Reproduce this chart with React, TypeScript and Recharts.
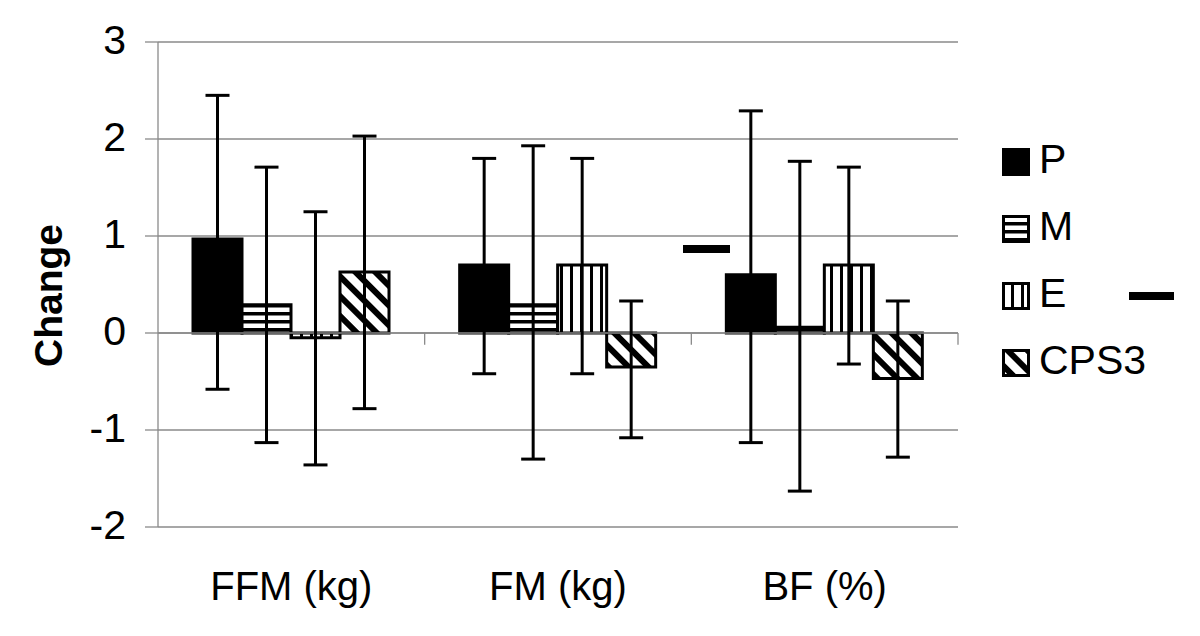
import React from 'react';
import { BarChart, Bar, XAxis, YAxis, CartesianGrid, ErrorBar, ReferenceLine } from 'recharts';

const FONT = '"Liberation Sans", Arial, Helvetica, sans-serif';

const categories = ['FFM (kg)', 'FM (kg)', 'BF (%)'];
const yTicks = [-2, -1, 0, 1, 2, 3];

const pMean = [0.97, 0.7, 0.6];
const pLow = [-0.58, -0.42, -1.13];
const pHigh = [2.45, 1.8, 2.29];

const mMean = [0.29, 0.29, 0.06];
const mLow = [-1.13, -1.3, -1.63];
const mHigh = [1.71, 1.93, 1.77];

const eMean = [-0.05, 0.7, 0.7];
const eLow = [-1.36, -0.42, -0.32];
const eHigh = [1.25, 1.8, 1.71];

const cMean = [0.63, -0.35, -0.47];
const cLow = [-0.78, -1.08, -1.28];
const cHigh = [2.03, 0.33, 0.33];

const seriesNames = ['P', 'M', 'E', 'CPS3'];
const seriesFills = ['#000', 'url(#patM)', 'url(#patE)', 'url(#patC)'];

const data = categories.map((name, i) => ({
  name,
  P: pMean[i],
  pErr: [pMean[i] - pLow[i], pHigh[i] - pMean[i]],
  M: mMean[i],
  mErr: [mMean[i] - mLow[i], mHigh[i] - mMean[i]],
  E: eMean[i],
  eErr: [eMean[i] - eLow[i], eHigh[i] - eMean[i]],
  CPS3: cMean[i],
  cErr: [cMean[i] - cLow[i], cHigh[i] - cMean[i]],
}));

const errKeys = ['pErr', 'mErr', 'eErr', 'cErr'];

const YLabel = (props: any) => {
  const vb = props.viewBox || { x: 0, y: 0, width: 0, height: 0 };
  const cx = vb.x + 62;
  const cy = vb.y + vb.height / 2 + 11;
  return (
    <text
      x={cx}
      y={cy}
      transform={`rotate(-90 ${cx} ${cy})`}
      textAnchor="middle"
      fontFamily={FONT}
      fontWeight="bold"
      fontSize={39}
      fill="#000"
    >
      Change
    </text>
  );
};

const YTick = (props: any) => {
  const { x, y, payload } = props;
  return (
    <text x={x} y={y} dy={12} textAnchor="end" fontFamily={FONT} fontSize={41} fill="#000">
      {payload.value}
    </text>
  );
};

const XTick = (props: any) => {
  const { x, y, payload } = props;
  return (
    <text x={x} y={y} dy={27} textAnchor="middle" fontFamily={FONT} fontSize={40} fill="#000">
      {payload.value}
    </text>
  );
};

export default function App() {
  return (
    <div style={{ position: 'absolute', left: 0, top: 0, width: 1200, height: 636, background: '#fff', fontFamily: FONT }}>
      <BarChart
        width={1200}
        height={636}
        data={data}
        margin={{ top: 42, right: 242, bottom: 0, left: 0 }}
        barCategoryGap={35}
        barGap={0}
      >
        <defs>
          <pattern id="patM" width="8" height="8" patternUnits="userSpaceOnUse">
            <rect width="8" height="8" fill="#fff" />
            <rect x="0" y="0" width="8" height="3.5" fill="#000" />
          </pattern>
          <pattern id="patE" width="10" height="10" patternUnits="userSpaceOnUse">
            <rect width="10" height="10" fill="#fff" />
            <rect x="0" y="0" width="3" height="10" fill="#000" />
          </pattern>
          <pattern id="patC" width="14" height="14" patternUnits="userSpaceOnUse" patternTransform="rotate(-45)">
            <rect width="14" height="14" fill="#fff" />
            <rect x="0" y="0" width="6" height="14" fill="#000" />
          </pattern>
        </defs>
        <CartesianGrid horizontal vertical={false} stroke="#8a8a8a" strokeWidth={1.3} />
        <XAxis
          dataKey="name"
          axisLine={false}
          tickLine={false}
          tickSize={0}
          tickMargin={46}
          height={109}
          interval={0}
          tick={<XTick />}
        />
        <YAxis
          domain={[-2, 3]}
          ticks={yTicks}
          width={158}
          axisLine={{ stroke: '#8a8a8a', strokeWidth: 1.3 }}
          tickLine={{ stroke: '#8a8a8a', strokeWidth: 1.3 }}
          tickSize={13}
          tickMargin={19}
          tick={<YTick />}
          label={<YLabel />}
        />
        <ReferenceLine y={0} stroke="#8a8a8a" strokeWidth={1.3} />
        <ReferenceLine segment={[{ x: categories[1], y: 0 }, { x: categories[1], y: -0.12 }]} position="start" stroke="#8a8a8a" strokeWidth={1.3} />
        <ReferenceLine segment={[{ x: categories[2], y: 0 }, { x: categories[2], y: -0.12 }]} position="start" stroke="#8a8a8a" strokeWidth={1.3} />
        <ReferenceLine segment={[{ x: categories[2], y: 0 }, { x: categories[2], y: -0.12 }]} position="end" stroke="#8a8a8a" strokeWidth={1.3} />
        {seriesNames.map((s, i) => (
          <Bar key={s} dataKey={s} fill={seriesFills[i]} stroke="#000" strokeWidth={3} isAnimationActive={false}>
            <ErrorBar dataKey={errKeys[i]} width={12} stroke="#000" strokeWidth={3} />
          </Bar>
        ))}
      </BarChart>
      <div style={{ position: 'absolute', left: 683, top: 245, width: 47, height: 8, background: '#000' }} />
      <div style={{ position: 'absolute', left: 1129, top: 292, width: 45, height: 8, background: '#000' }} />
      <div style={{ position: 'absolute', left: 1001, top: 128, fontFamily: FONT }}>
        {seriesNames.map((s, i) => (
          <div key={s} style={{ display: 'flex', alignItems: 'center', height: 67 }}>
            <svg width={30} height={30} style={{ display: 'block' }}>
              <rect x={2.5} y={2.5} width={25} height={25} fill={seriesFills[i]} stroke="#000" strokeWidth={3} />
            </svg>
            <span
              style={{
                display: 'inline-block',
                fontSize: 41,
                marginLeft: 8,
                color: '#000',
                lineHeight: '44px',
                position: 'relative',
                top: -3,
              }}
            >
              {s}
            </span>
          </div>
        ))}
      </div>
    </div>
  );
}
